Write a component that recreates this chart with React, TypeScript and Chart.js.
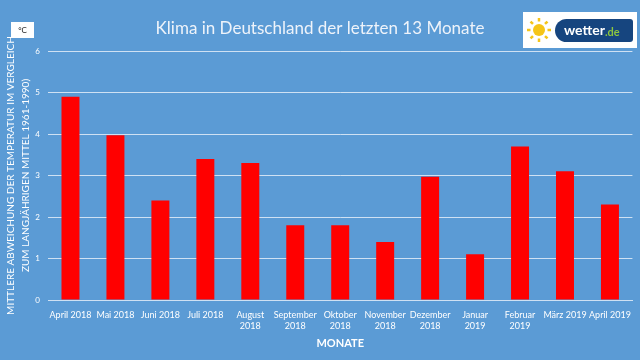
import React, { useEffect, useRef } from "react";
import { Chart, registerables } from "chart.js";

Chart.register(...registerables);

const months: (string | string[])[] = [
  "April 2018",
  "Mai 2018",
  "Juni 2018",
  "Juli 2018",
  ["August", "2018"],
  ["September", "2018"],
  ["Oktober", "2018"],
  ["November", "2018"],
  ["Dezember", "2018"],
  ["Januar", "2019"],
  ["Februar", "2019"],
  "März 2019",
  "April 2019",
];
const deviation = [4.9, 3.97, 2.4, 3.4, 3.3, 1.8, 1.8, 1.4, 2.97, 1.1, 3.7, 3.1, 2.3];
const yTicks = [0, 1, 2, 3, 4, 5, 6];
const titleText = "Klima in Deutschland der letzten 13 Monate";
const yTitle = ["MITTLERE ABWEICHUNG DER TEMPERATUR IM VERGLEICH", "ZUM LANGJÄHRIGEN MITTEL 1961-1990)"];
const xTitle = "MONATE";
const unitText = "°C";

const FONT = "Lato, 'Open Sans', sans-serif";

const decorPlugin = {
  id: "decor",
  beforeDraw(chart: any) {
    const ctx = chart.ctx;
    ctx.save();
    ctx.fillStyle = "#5b9bd5";
    ctx.fillRect(0, 0, chart.width, chart.height);
    ctx.restore();
  },
  afterDraw(chart: any) {
    const ctx = chart.ctx;
    ctx.save();
    // title
    ctx.fillStyle = "#eef3fa";
    ctx.font = `17px ${FONT}`;
    ctx.textAlign = "center";
    ctx.textBaseline = "middle";
    ctx.fillText(titleText, 320, 29);
    // unit box
    ctx.fillStyle = "#ffffff";
    ctx.fillRect(11, 22, 23, 16);
    ctx.fillStyle = "#222";
    ctx.font = `8px ${FONT}`;
    ctx.fillText(unitText, 22.5, 30.5);
    // logo
    ctx.fillStyle = "#ffffff";
    ctx.fillRect(523, 12, 114, 36);
    // sun
    ctx.fillStyle = "#f5c518";
    ctx.beginPath();
    ctx.arc(539, 30, 6, 0, Math.PI * 2);
    ctx.fill();
    ctx.strokeStyle = "#f5c518";
    ctx.lineWidth = 2.5;
    for (let i = 0; i < 8; i++) {
      const a = (i * Math.PI) / 4;
      ctx.beginPath();
      ctx.moveTo(539 + Math.cos(a) * 8.5, 30 + Math.sin(a) * 8.5);
      ctx.lineTo(539 + Math.cos(a) * 12, 30 + Math.sin(a) * 12);
      ctx.stroke();
    }
    // pill
    ctx.fillStyle = "#16457f";
    ctx.beginPath();
    const x0 = 555, y0 = 19, w = 78, h = 23, r = 11.5;
    ctx.moveTo(x0 + r, y0);
    ctx.lineTo(x0 + w - 3, y0);
    ctx.quadraticCurveTo(x0 + w, y0, x0 + w, y0 + 3);
    ctx.lineTo(x0 + w, y0 + h - 3);
    ctx.quadraticCurveTo(x0 + w, y0 + h, x0 + w - 3, y0 + h);
    ctx.lineTo(x0 + r, y0 + h);
    ctx.arc(x0 + r, y0 + h / 2, h / 2, Math.PI / 2, (Math.PI * 3) / 2);
    ctx.closePath();
    ctx.fill();
    ctx.textAlign = "left";
    ctx.font = `bold 14px ${FONT}`;
    ctx.fillStyle = "#ffffff";
    ctx.fillText("wetter", 564, 30.5);
    const ww = ctx.measureText("wetter").width;
    ctx.fillStyle = "#8cc63f";
    ctx.font = `bold 11px ${FONT}`;
    ctx.fillText(".de", 564 + ww, 32);
    ctx.restore();
  },
};

export default function App() {
  const ref = useRef<HTMLCanvasElement>(null);
  useEffect(() => {
    if (!ref.current) return;
    const chart = new Chart(ref.current, {
      type: "bar",
      data: {
        labels: months,
        datasets: [
          {
            data: deviation,
            backgroundColor: "#ff0000",
            barPercentage: 0.8,
            categoryPercentage: 0.5,
          },
        ],
      },
      plugins: [decorPlugin],
      options: {
        animation: false,
        responsive: false,
        maintainAspectRatio: false,
        layout: { padding: { top: 51, left: 4, right: 3, bottom: 10 } },
        plugins: {
          legend: { display: false },
          title: { display: false },
          tooltip: { enabled: false },
        },
        scales: {
          x: {
            grid: { display: false, drawTicks: false },
            border: { display: true, color: "#cfe1f3", width: 1 },
            ticks: {
              color: "#ffffff",
              font: { family: FONT, size: 9, lineHeight: 1.3 },
              maxRotation: 0,
              autoSkip: false,
              padding: 9,
            },
            title: {
              display: true,
              text: xTitle,
              color: "#ffffff",
              font: { family: FONT, size: 11, weight: "bold" },
              padding: { top: 0, bottom: 0 },
            },
            afterFit: (s: any) => {
              s.height = 50;
            },
          },
          y: {
            min: 0,
            max: 6,
            afterBuildTicks: (s: any) => {
              s.ticks = yTicks.map((v) => ({ value: v }));
            },
            grid: { color: "#cfe1f3", drawTicks: false, lineWidth: 1 },
            border: { display: false },
            ticks: {
              color: "#ffffff",
              font: { family: FONT, size: 8 },
              padding: 8,
            },
            title: {
              display: true,
              text: yTitle,
              color: "#ffffff",
              font: { family: FONT, size: 10, lineHeight: 1.45 },
              padding: { top: 0, bottom: 0 },
            },
            afterFit: (s: any) => {
              s.width = 44;
            },
          },
        },
      },
    });
    return () => chart.destroy();
  }, []);
  return (
    <div style={{ position: "fixed", left: 0, top: 0, width: 640, height: 360 }}>
      <canvas ref={ref} width={640} height={360} />
    </div>
  );
}
